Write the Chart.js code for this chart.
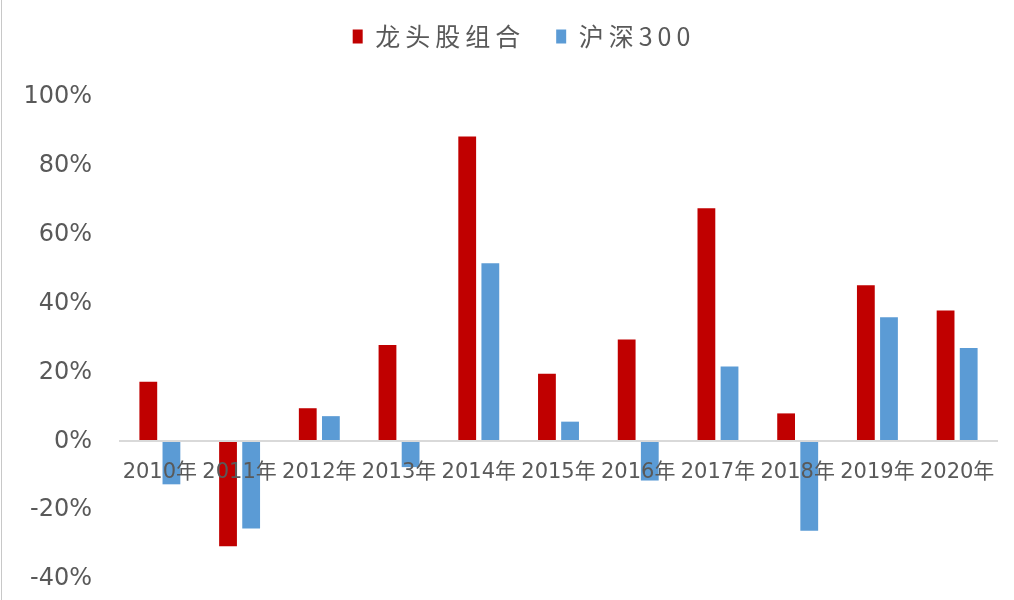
<!DOCTYPE html>
<html>
<head>
<meta charset="utf-8">
<script src="https://cdn.jsdelivr.net/npm/chart.js@4/dist/chart.umd.min.js"></script>
<style>
  html, body { margin: 0; padding: 0; background: #fff; }
  #wrap { position: relative; width: 1014px; height: 600px; }
  #edge { position: absolute; left: 1px; top: 0; width: 1px; height: 600px; background: #c8c8c8; }
</style>
</head>
<body>
<div id="wrap">
  <canvas id="c" width="1014" height="600"></canvas>
  <div id="edge"></div>
</div>
<script>
const categories = ['2010年','2011年','2012年','2013年','2014年','2015年','2016年','2017年','2018年','2019年','2020年'];
const leaderPortfolio = [17.3, -30.5, 9.6, 28, 88.5, 19.6, 29.6, 67.7, 8.1, 45.3, 38];
const csi300 = [-12.5, -25.3, 7.3, -7.5, 51.7, 5.7, -11.4, 21.7, -26, 36, 27.1];
const seriesNames = ['龙头股组合', '沪深300'];
const yTicks = [-40, -20, 0, 20, 40, 60, 80, 100];

const font = "'DejaVu Sans', 'Noto Sans CJK SC', sans-serif";

const LEGEND_HEIGHT = 87;
const LEGEND_SHIFT_X = 24;
const LEGEND_SHIFT_Y = -17;
const LEGEND_SPACING = '5px';

const legendTweak = {
  id: 'legendTweak',
  beforeLayout(chart) {
    const lg = chart.legend;
    if (!lg || lg._tw) return;
    lg._tw = true;
    const fit = lg.fit.bind(lg), draw = lg.draw.bind(lg);
    lg.fit = function () {
      const c = this.ctx; c.save(); c.letterSpacing = LEGEND_SPACING; fit(); c.restore();
      this.height = LEGEND_HEIGHT;
    };
    lg.draw = function () {
      const c = this.ctx; c.save(); c.letterSpacing = LEGEND_SPACING; c.translate(LEGEND_SHIFT_X, LEGEND_SHIFT_Y); draw(); c.restore();
    };
  }
};

new Chart(document.getElementById('c'), {
  type: 'bar',
  data: {
    labels: categories,
    datasets: [
      { label: seriesNames[0], data: leaderPortfolio, backgroundColor: '#C00000', barPercentage: 0.77, categoryPercentage: 0.58 },
      { label: seriesNames[1], data: csi300, backgroundColor: '#5B9BD5', barPercentage: 0.77, categoryPercentage: 0.58 }
    ]
  },
  plugins: [legendTweak],
  options: {
    responsive: false,
    animation: false,
    layout: { padding: { left: 0, right: 14, top: 10, bottom: 21 } },
    plugins: {
      tooltip: { enabled: false },
      legend: {
        position: 'top',
        labels: {
          boxWidth: 10, boxHeight: 14,
          color: '#595959',
          font: { family: "'Noto Sans CJK SC', sans-serif", size: 25 },
          padding: 31
        }
      }
    },
    scales: {
      x: {
        position: { y: 0 },
        afterFit: (s) => { s.paddingTop = 0; s.paddingBottom = 0; s.height = 0; },
        grid: { display: false, drawTicks: false },
        border: { display: true, color: '#d9d9d9', width: 2, z: 1 },
        ticks: { z: 1, color: '#595959', font: { family: font, size: 21 }, padding: 19, maxRotation: 0, autoSkip: false }
      },
      y: {
        min: -40, max: 100,
        afterBuildTicks: (s) => { s.ticks = yTicks.map(v => ({ value: v })); },
        afterFit: (s) => { s.width = 120; s.paddingBottom = 0; },
        grid: { display: false, drawTicks: false },
        border: { display: false },
        ticks: { color: '#595959', font: { family: font, size: 24 }, padding: 28, callback: (v) => v + '%' }
      }
    }
  }
});
</script>
</body>
</html>
